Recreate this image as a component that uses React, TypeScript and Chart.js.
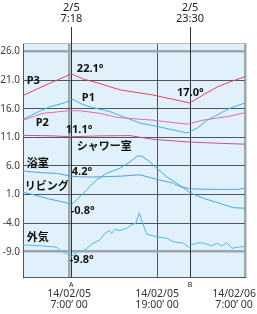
import React, { useEffect, useRef } from 'react';
import { Chart, registerables } from 'chart.js';

Chart.register(...registerables);

// ---- axes ----
const X_MIN = 0.7; // hours since 2/5 0:00
const X_MAX = 31;
const Y_MIN = -13.42;
const Y_MAX = 27.49;
const yTicks = [-9, -4, 1, 6, 11, 16, 21, 26];
const xTicks = [7, 19, 31];
const xTickDates = ['14/02/05', '14/02/05', '14/02/06'];
const xTickTimes = ['7:00\u2019 00', '19:00\u2019 00', '7:00\u2019 00'];

// ---- markers ----
const markerHours = [7.3, 23.5];
const markerNames = ['A', 'B'];
const markerDates = ['2/5', '2/5'];
const markerTimes = ['7:18', '23:30'];

// ---- series ----
const p3Hours = [0.7, 2.53, 4.8, 7.3, 8.91, 11.19, 13.93, 18.44, 23.5, 25.28, 27.19, 28.97, 31];
const p3Temps = [18.3, 19.4, 20.7, 22.1, 21.2, 20.4, 19.3, 18.4, 17.0, 18.4, 19.8, 20.7, 21.6];

const p1Hours = [0.7, 2.53, 4.35, 6.17, 7.53, 8.46, 9.37, 11.19, 12.56, 13.93, 16.67, 19.4, 23.1, 24.46, 25.83, 27.2, 28.98, 31];
const p1Temps = [14.15, 15.3, 16.35, 16.95, 17.65, 16.95, 16.5, 15.9, 15.5, 14.8, 13.5, 12.8, 11.75, 12.6, 14.0, 14.9, 16.1, 17.0];

const p2Hours = [0.7, 3.44, 7.0, 8.46, 11.19, 13.5, 15.3, 18.44, 23.1, 25.28, 28.97, 31];
const p2Temps = [14.0, 15.2, 15.65, 15.65, 15.2, 14.5, 14.3, 14.0, 13.3, 14.0, 14.7, 15.3];

const showerHours = [0.7, 4.8, 7.3, 11.19, 15.3, 18.44, 23.1, 27.6, 31];
const showerTemps = [11.35, 11.25, 11.1, 11.25, 11.3, 10.65, 10.2, 9.95, 9.8];

const bathHours = [0.7, 3.4, 5.3, 7.3, 8.5, 10.2, 13.93, 16.67, 18.95, 21.2, 22.1, 23.5, 26.5, 30.0, 31];
const bathTemps = [5.1, 4.8, 4.7, 4.2, 4.1, 4.05, 4.2, 4.45, 3.65, 3.0, 2.4, 2.0, 1.9, 1.9, 2.1];

const livingHours = [0.7, 2.03, 4.35, 6.64, 7.3, 8.0, 9.37, 10.74, 12.11, 13.93, 15.3, 16.39, 17.07, 18.03, 18.95, 20.32, 21.69, 23.5, 25.28, 27.6, 29.4, 31];
const livingTemps = [1.4, 1.0, 0.2, -0.45, -0.8, 0.05, 1.8, 3.55, 4.7, 5.6, 6.7, 7.8, 7.6, 6.7, 5.6, 4.1, 3.0, 1.3, 0.35, -0.55, -1.3, -1.4];

const outsideHours = [0.7, 3.4, 5.31, 5.72, 6.64, 7.3, 8.22, 9.14, 10.28, 11.19, 11.88, 12.46, 12.79, 13.24, 13.93, 14.85, 15.53, 16.12, 16.57, 17.03, 17.58, 18.95, 20.32, 21.22, 22.59, 23.3, 23.96, 24.87, 25.79, 26.47, 27.16, 27.84, 28.52, 29.21, 30.11, 31];
const outsideTemps = [-7.8, -8.0, -8.2, -8.7, -9.3, -9.8, -9.0, -8.7, -7.5, -6.95, -5.8, -5.3, -5.8, -5.1, -5.3, -4.9, -4.3, -4.0, -2.2, -4.0, -5.9, -6.4, -6.65, -7.25, -7.5, -8.2, -7.65, -7.4, -7.65, -8.0, -7.5, -8.0, -7.4, -8.4, -8.2, -8.1];

// ---- in-plot labels ----
const labelTexts = ['P3', '22.1°', 'P1', 'P2', '11.1°', 'シャワー室', '浴室', '4.2°', 'リビング', '-0.8°', '外気', '-9.8°', '17.0°'];
const labelHours = [1.2, 8.05, 8.73, 2.44, 6.54, 8.05, 1.2, 7.36, 0.93, 7.22, 1.2, 7.09, 21.73];
const labelTemps = [20.9, 22.9, 17.9, 13.5, 12.3, 9.3, 6.3, 5.0, 2.4, -1.8, -6.6, -10.45, 18.7];

const FONT = '"Noto Sans", "Noto Sans CJK JP", sans-serif';

const pts = (hs: number[], vs: number[]) => hs.map((h, i) => ({ x: h, y: vs[i] }));

const isHeavyX = (v: number) => v === 7 || v === 31;
const isHeavyY = (v: number) => v === 26 || v === -9;

const decor = {
  id: 'decor',
  beforeDraw(chart: any) {
    const { ctx, chartArea: a } = chart;
    ctx.save();
    ctx.fillStyle = '#e1f1fb';
    ctx.fillRect(a.left, a.top, a.right - a.left, a.bottom - a.top);
    ctx.restore();
  },
  beforeDatasetsDraw(chart: any) {
    const { ctx, chartArea: a, scales } = chart;
    ctx.save();
    ctx.strokeStyle = '#b0bac1';
    ctx.lineWidth = 1;
    ctx.beginPath();
    ctx.moveTo(a.left, a.top + 0.5);
    ctx.lineTo(a.right, a.top + 0.5);
    ctx.stroke();
    ctx.strokeStyle = '#333';
    markerHours.forEach((h) => {
      const x = Math.round(scales.x.getPixelForValue(h)) + 0.5;
      ctx.beginPath();
      ctx.moveTo(x, 27);
      ctx.lineTo(x, a.bottom);
      ctx.stroke();
    });
    ctx.restore();
  },
  afterDraw(chart: any) {
    const { ctx, scales, width } = chart;
    const sx = scales.x;
    const sy = scales.y;
    ctx.save();
    ctx.fillStyle = '#222';
    ctx.textAlign = 'center';
    ctx.textBaseline = 'middle';
    // top marker labels
    ctx.font = `11px ${FONT}`;
    markerHours.forEach((h, i) => {
      const x = sx.getPixelForValue(h);
      ctx.fillText(markerDates[i], x, 8);
      ctx.fillText(markerTimes[i], x, 19);
    });
    // bottom marker names
    ctx.font = `7px ${FONT}`;
    markerHours.forEach((h, i) => {
      ctx.fillText(markerNames[i], sx.getPixelForValue(h), 285);
    });
    // x tick labels
    ctx.font = `10.5px ${FONT}`;
    ctx.fillStyle = '#333';
    xTicks.forEach((v, i) => {
      const w = Math.max(ctx.measureText(xTickDates[i]).width, ctx.measureText(xTickTimes[i]).width);
      let x = sx.getPixelForValue(v);
      x = Math.min(x, width - w / 2 - 1);
      ctx.fillText(xTickDates[i], x, 294);
      ctx.fillText(xTickTimes[i], x, 305.5);
    });
    // in-plot labels
    ctx.fillStyle = '#111';
    ctx.textAlign = 'left';
    ctx.font = `bold 11px ${FONT}`;
    labelTexts.forEach((t, i) => {
      ctx.fillText(t, sx.getPixelForValue(labelHours[i]), sy.getPixelForValue(labelTemps[i]));
    });
    ctx.restore();
  },
};

export default function App() {
  const ref = useRef<HTMLCanvasElement | null>(null);
  useEffect(() => {
    if (!ref.current) return;
    const ds = (label: string, hs: number[], vs: number[], color: string) => ({
      label,
      data: pts(hs, vs),
      borderColor: color,
      borderWidth: 1,
      pointRadius: 0,
      tension: 0,
      fill: false,
    });
    const chart = new Chart(ref.current, {
      type: 'line',
      data: {
        datasets: [
          ds('P3', p3Hours, p3Temps, '#e8435f'),
          ds('P2', p2Hours, p2Temps, '#df6bb3'),
          ds('シャワー室', showerHours, showerTemps, '#c9528f'),
          ds('P1', p1Hours, p1Temps, '#45b3ea'),
          ds('浴室', bathHours, bathTemps, '#5a9fd8'),
          ds('リビング', livingHours, livingTemps, '#3eaee8'),
          ds('外気', outsideHours, outsideTemps, '#4fbcea'),
        ],
      },
      options: {
        animation: false,
        responsive: false,
        layout: { padding: { left: 0, top: 43, right: 12, bottom: 37 } },
        plugins: { legend: { display: false }, tooltip: { enabled: false } },
        scales: {
          x: {
            type: 'linear',
            min: X_MIN,
            max: X_MAX,
            afterBuildTicks: (s: any) => {
              s.ticks = xTicks.map((v) => ({ value: v }));
            },
            ticks: { display: false },
            grid: {
              drawTicks: false,
              color: (c: any) => (isHeavyX(c.tick?.value) ? '#9ca6ad' : '#50565b'),
              lineWidth: (c: any) => (isHeavyX(c.tick?.value) ? 2.5 : 1),
            },
            border: { display: true, color: '#50565b', width: 1 },
          },
          y: {
            type: 'linear',
            min: Y_MIN,
            max: Y_MAX,
            afterBuildTicks: (s: any) => {
              s.ticks = yTicks.map((v) => ({ value: v }));
            },
            afterFit: (s: any) => {
              s.width = 23;
            },
            ticks: {
              padding: 3,
              color: '#3c3c3c',
              font: { family: FONT, size: 10 },
              callback: (v: any) => Number(v).toFixed(1),
            },
            grid: {
              drawTicks: false,
              color: (c: any) => (isHeavyY(c.tick?.value) ? '#9ca6ad' : '#50565b'),
              lineWidth: (c: any) => (isHeavyY(c.tick?.value) ? 2.5 : 1),
            },
            border: { display: true, color: '#50565b', width: 1 },
          },
        },
      },
      plugins: [decor],
    } as any);
    return () => chart.destroy();
  }, []);
  return (
    <div style={{ position: 'absolute', left: 0, top: 0, width: 257, height: 314 }}>
      <canvas ref={ref} width={257} height={314} style={{ display: 'block', width: 257, height: 314 }} />
    </div>
  );
}
